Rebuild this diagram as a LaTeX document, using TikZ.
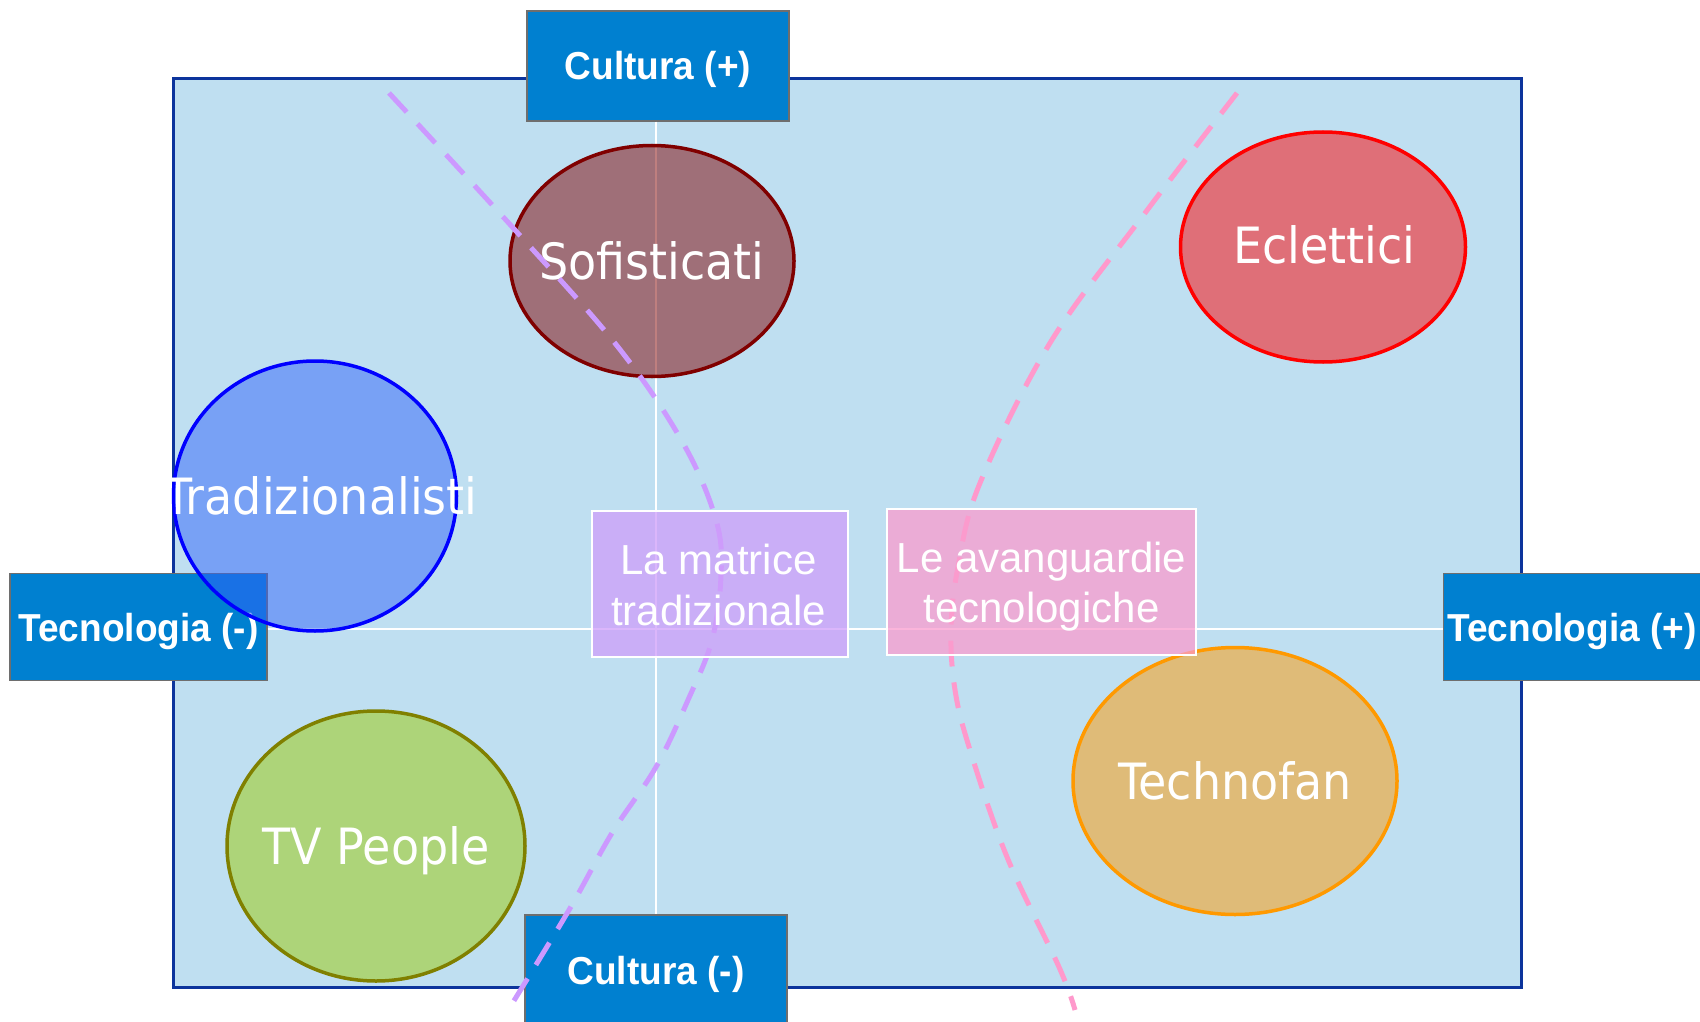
\documentclass[tikz,border=0pt]{standalone}
\usepackage{fontspec}
\usetikzlibrary{shapes.geometric}
\newfontfamily\axisfont[FakeStretch=0.95]{Liberation Sans}
\newfontfamily\ellfont[FakeStretch=0.92]{DejaVu Sans}
\newfontfamily\midfont{Liberation Sans}
\definecolor{bgblue}{RGB}{191,223,241}
\definecolor{navy}{RGB}{12,52,156}
\definecolor{axisblue}{RGB}{0,128,208}
\definecolor{axisgray}{RGB}{110,110,110}
\definecolor{maroonc}{RGB}{128,0,0}
\definecolor{redc}{RGB}{255,0,0}
\definecolor{tradfill}{RGB}{50,100,250}
\definecolor{tradline}{RGB}{0,0,255}
\definecolor{tvfill}{RGB}{157,203,3}
\definecolor{tvline}{RGB}{128,128,0}
\definecolor{orangec}{RGB}{255,153,0}
\definecolor{purpledash}{RGB}{204,153,255}
\definecolor{pinkdash}{RGB}{255,153,204}
\definecolor{matricefill}{RGB}{207,158,250}
\definecolor{avangfill}{RGB}{250,156,206}
\begin{document}
\begin{tikzpicture}[x=1pt,y=-1pt,
  axisbox/.style={draw=axisgray, line width=1.5pt, fill=axisblue, text=white,
    font=\axisfont\bfseries\fontsize{39}{39}\selectfont, inner sep=0pt,
    text height=28pt, text depth=0pt},
  axisline/.style={draw=white, line width=2.5pt},
  ell/.style={ellipse, inner sep=0pt, line width=3.5pt, fill opacity=0.5},
  elltext/.style={text=white, font=\ellfont\fontsize{50}{50}\selectfont,
    inner sep=0pt, text height=36.5pt, text depth=0pt},
  midbox/.style={draw=white, line width=1.5pt, fill opacity=0.75, inner sep=0pt},
  midtext/.style={text=white, font=\midfont\fontsize{42}{42}\selectfont,
    inner sep=0pt, anchor=base},
  dashcurve/.style={line width=5pt, dash pattern=on 26pt off 16pt}
]
\useasboundingbox (0,0) rectangle (1700,1022);
% frame
\node[draw=navy, line width=3pt, fill=bgblue, minimum width=1348pt,
  minimum height=908pt, inner sep=0pt] (frame) at (847,533) {};
% axis boxes
\node[axisbox, minimum width=262pt, minimum height=110pt] (cplus) at (658,66) {Cultura (+)};
\node[axisbox, minimum width=262pt, minimum height=110pt] (cminus) at (656,970) {Cultura (-)};
\node[axisbox, minimum width=257pt, minimum height=107pt] (tminus) at (138.5,627) {Tecnologia (-)};
\node[axisbox, minimum width=257pt, minimum height=107pt] (tplus) at (1572,627) {Tecnologia (+)};
% axis lines
\draw[axisline] (cplus.south -| cminus.north) -- (cminus.north);
\draw[axisline] ([yshift=-2pt]tminus.east) -- ([yshift=-2pt]tplus.west);
% ellipses
\node[ell, minimum width=284pt, minimum height=231pt, fill=maroonc, draw=maroonc] (sof) at (652,261) {};
\node[ell, minimum width=285pt, minimum height=230pt, fill=redc, draw=redc] (ecl) at (1323,247) {};
\node[ell, minimum width=283pt, minimum height=270pt, fill=tradfill, draw=tradline] (trad) at (315,496) {};
\node[ell, minimum width=298pt, minimum height=270pt, fill=tvfill, draw=tvline] (tv) at (376,846) {};
\node[ell, minimum width=324pt, minimum height=267pt, fill=orangec, draw=orangec] (tech) at (1235,781) {};
\node[elltext] (sofT) at (sof.center) {Sofisticati};
\node[elltext] (eclT) at ([xshift=1.5pt,yshift=1.5pt]ecl.center) {Eclettici};
\node[elltext] (tradT) at ([xshift=6pt]trad.center) {Tradizionalisti};
\node[elltext] (tvT) at (tv.center) {TV People};
\node[elltext] (techT) at (tech.center) {Technofan};
% dashed curves
\draw[dashcurve, draw=purpledash] plot[smooth, tension=0.6] coordinates
  {(389,93) (515,230) (618,347) (683,443) (716,520) (721,575) (712,640)
   (688,700) (656,767) (612,833) (569,910) (507,1012)};
\draw[dashcurve, draw=pinkdash] plot[smooth, tension=0.6] coordinates
  {(1237,93) (1145,213) (1050,343) (980,483) (958,567) (951,630) (955,690)
   (970,750) (1007,857) (1059,967) (1075,1010)};
% middle boxes
\node[midbox, fill=matricefill, minimum width=256pt, minimum height=146pt] (matrice) at (720,584) {};
\node[midbox, fill=avangfill, minimum width=309pt, minimum height=146pt] (avang) at (1041.5,582) {};
\node[midtext] (matrice1) at (718.5,574) {La matrice};
\node[midtext] (matrice2) at (718.5,625) {tradizionale};
\node[midtext] (avang1) at (1041.5,572) {Le avanguardie};
\node[midtext] (avang2) at (1041.5,622) {tecnologiche};
\end{tikzpicture}
\end{document}
